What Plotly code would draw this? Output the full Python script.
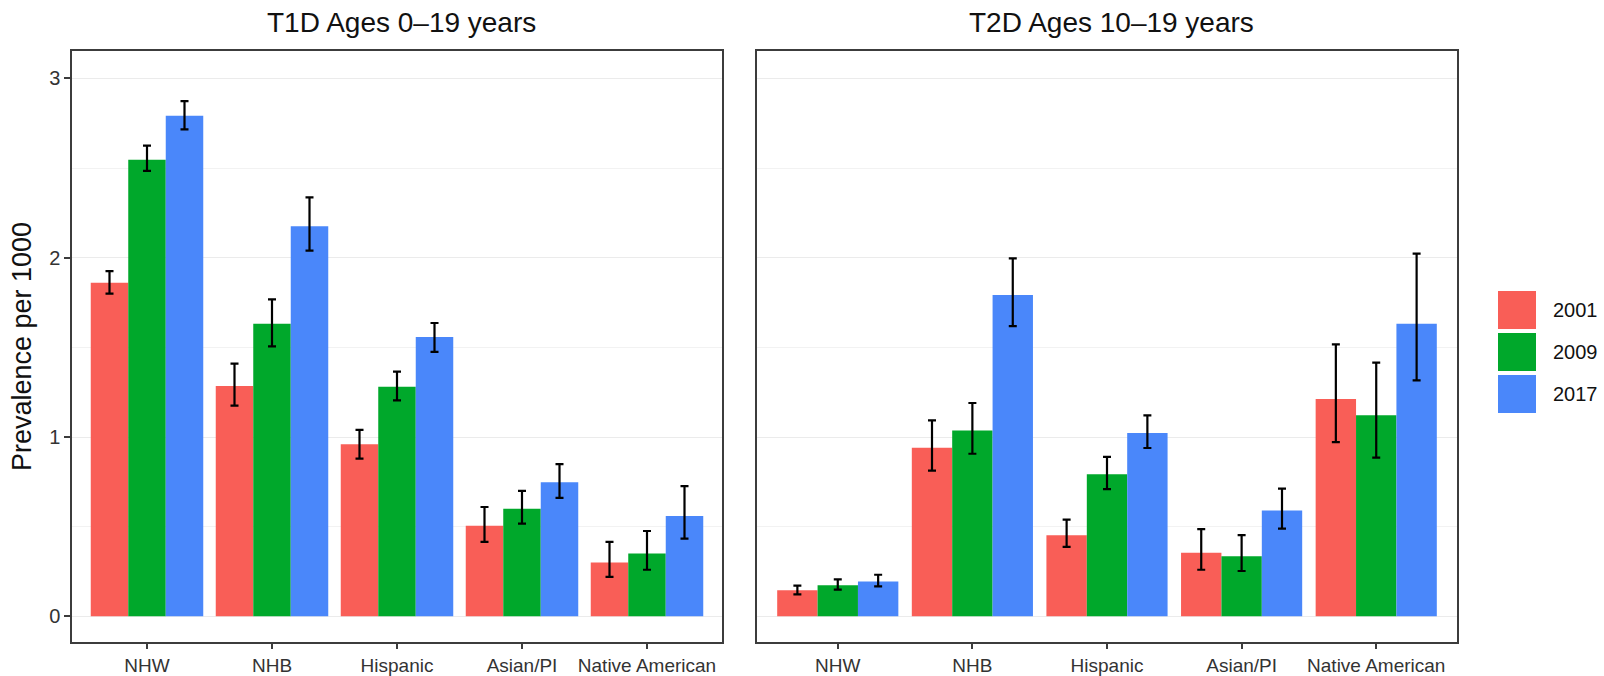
import plotly.graph_objects as go

# ---------------- data ----------------
categories = ["NHW", "NHB", "Hispanic", "Asian/PI", "Native American"]
years = ["2001", "2009", "2017"]
panel_titles = ["T1D Ages 0\u201319 years", "T2D Ages 10\u201319 years"]
y_title = "Prevalence per 1000"
y_ticks = [0, 1, 2, 3]

# T1D ages 0-19
t1d_2001 = [1.860, 1.285, 0.960, 0.505, 0.300]
t1d_2001_lo = [1.800, 1.175, 0.880, 0.415, 0.220]
t1d_2001_hi = [1.925, 1.410, 1.040, 0.610, 0.415]
t1d_2009 = [2.547, 1.632, 1.280, 0.600, 0.350]
t1d_2009_lo = [2.484, 1.506, 1.205, 0.517, 0.260]
t1d_2009_hi = [2.625, 1.768, 1.365, 0.700, 0.476]
t1d_2017 = [2.792, 2.175, 1.558, 0.748, 0.560]
t1d_2017_lo = [2.716, 2.040, 1.475, 0.661, 0.433]
t1d_2017_hi = [2.874, 2.337, 1.636, 0.849, 0.726]

# T2D ages 10-19
t2d_2001 = [0.145, 0.941, 0.453, 0.355, 1.212]
t2d_2001_lo = [0.123, 0.813, 0.387, 0.260, 0.972]
t2d_2001_hi = [0.171, 1.093, 0.539, 0.487, 1.517]
t2d_2009 = [0.173, 1.037, 0.792, 0.335, 1.121]
t2d_2009_lo = [0.149, 0.907, 0.710, 0.253, 0.885]
t2d_2009_hi = [0.206, 1.190, 0.889, 0.453, 1.415]
t2d_2017 = [0.195, 1.792, 1.022, 0.591, 1.632]
t2d_2017_lo = [0.167, 1.619, 0.939, 0.489, 1.316]
t2d_2017_hi = [0.232, 1.997, 1.121, 0.712, 2.023]

# ---------------- style ----------------
colors = ["#F95E57", "#00A82B", "#4A87FA"]
FONT = "Liberation Sans, Arial, sans-serif"
W, H = 1604, 676
ML, MR, MT, MB = 72, 147, 51, 34
plot_w = W - ML - MR
plot_h = H - MT - MB

def px_x(p):
    return (p - ML) / plot_w

def px_y(p):
    return (H - MB - p) / plot_h

fig = go.Figure()

panels = [
    ("x", "y", [(t1d_2001, t1d_2001_lo, t1d_2001_hi),
                (t1d_2009, t1d_2009_lo, t1d_2009_hi),
                (t1d_2017, t1d_2017_lo, t1d_2017_hi)]),
    ("x2", "y2", [(t2d_2001, t2d_2001_lo, t2d_2001_hi),
                  (t2d_2009, t2d_2009_lo, t2d_2009_hi),
                  (t2d_2017, t2d_2017_lo, t2d_2017_hi)]),
]

for xa, ya, series in panels:
    for (vals, lo, hi), yr, col in zip(series, years, colors):
        fig.add_trace(go.Bar(
            x=categories, y=vals, name=yr, xaxis=xa, yaxis=ya,
            marker=dict(color=col, line=dict(width=0)),
            offsetgroup=yr, showlegend=False,
            error_y=dict(type="data", symmetric=False,
                         array=[h - v for h, v in zip(hi, vals)],
                         arrayminus=[v - l for v, l in zip(vals, lo)],
                         color="black", thickness=2.2, width=4),
        ))

yrange = [-0.143, 3.153]
left_dom = [0, px_x(722)]
right_dom = [px_x(757), 1]

common_x = dict(type="category", range=[-0.6, 4.6], showgrid=False,
                showline=True, mirror=True, linecolor="#3c3c3c", linewidth=1.5,
                ticks="outside", ticklen=5, tickcolor="#3c3c3c", tickwidth=1.5,
                automargin=False,
                tickfont=dict(family=FONT, size=19, color="#333333"),
                zeroline=False, fixedrange=True)
common_y = dict(range=yrange, tickmode="array", tickvals=y_ticks,
                showgrid=True, gridcolor="#EBEBEB", gridwidth=1.2,
                minor=dict(tickmode="linear", tick0=0, dtick=0.5, showgrid=True,
                           gridcolor="#F2F2F2", gridwidth=1),
                showline=True, mirror=True, linecolor="#3c3c3c", linewidth=1.5,
                zeroline=False, fixedrange=True, automargin=False)

fig.update_layout(
    width=W, height=H,
    margin=dict(l=ML, r=MR, t=MT, b=MB),
    paper_bgcolor="white", plot_bgcolor="white",
    barmode="group", bargap=0.1, bargroupgap=0,
    showlegend=False,
    font=dict(family=FONT, color="#222222"),
    xaxis=dict(domain=left_dom, anchor="y", **common_x),
    xaxis2=dict(domain=right_dom, anchor="y2", **common_x),
    yaxis=dict(domain=[0, 1], anchor="x", ticks="outside", ticklen=6,
               tickcolor="#3c3c3c", tickwidth=1.5,
               tickfont=dict(family=FONT, size=20, color="#333333"),
               title=dict(text=y_title, font=dict(family=FONT, size=27, color="#111111"),
                          standoff=10),
               **common_y),
    yaxis2=dict(domain=[0, 1], anchor="x2", matches="y", showticklabels=False,
                ticks="", **common_y),
)

# panel titles
for title, dom in zip(panel_titles, [left_dom, right_dom]):
    fig.add_annotation(text=title, xref="paper", yref="paper",
                       x=(dom[0] + dom[1]) / 2 + 4 / plot_w, y=px_y(22),
                       xanchor="center", yanchor="middle", showarrow=False,
                       font=dict(family=FONT, size=28, color="#111111"))

# manual legend (large keys like ggplot)
key_tops = [291, 333, 375]
for yr, col, top in zip(years, colors, key_tops):
    fig.add_shape(type="rect", xref="paper", yref="paper",
                  x0=px_x(1498), x1=px_x(1536), y0=px_y(top + 38), y1=px_y(top),
                  fillcolor=col, line=dict(width=0))
    fig.add_annotation(text=yr, xref="paper", yref="paper",
                       x=px_x(1551), y=px_y(top + 19), xanchor="left", yanchor="middle",
                       showarrow=False, font=dict(family=FONT, size=20, color="#111111"))

fig.write_html("out.html")
